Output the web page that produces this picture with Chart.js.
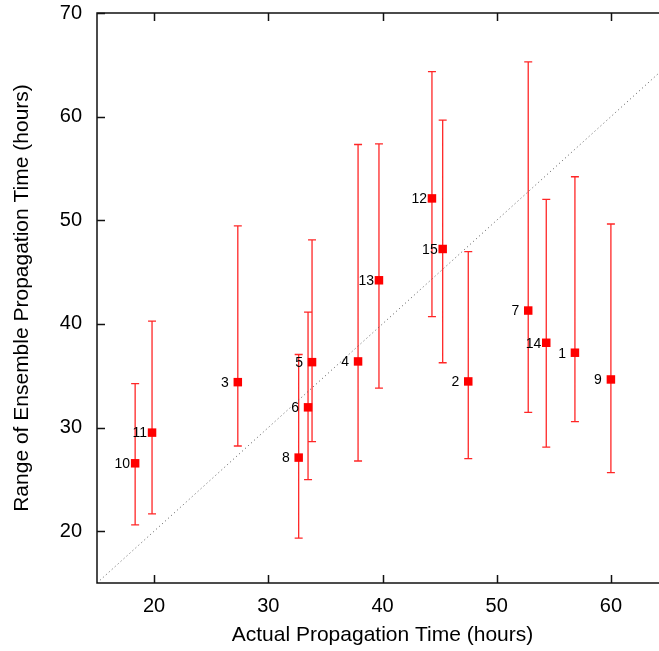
<!DOCTYPE html>
<html>
<head>
<meta charset="utf-8">
<script src="https://cdn.jsdelivr.net/npm/chart.js@4.4.1/dist/chart.umd.min.js"></script>
<style>
html, body { margin: 0; padding: 0; background: #fff; overflow: hidden; }
#wrap { width: 659px; height: 651px; overflow: hidden; }
</style>
</head>
<body>
<div id="wrap"><canvas id="chart" width="680" height="651"></canvas></div>
<script>
// Data
const eventLabels  = ["1", "2", "3", "4", "5", "6", "7", "8", "9", "10", "11", "12", "13", "14", "15"];
const actualTime   = [56.85, 47.51, 27.33, 37.86, 33.83, 33.48, 52.76, 32.66, 60.0, 18.34, 19.82, 44.33, 39.69, 54.34, 45.27];
const ensembleMid  = [37.22, 34.45, 34.38, 36.38, 36.31, 31.95, 41.29, 27.10, 34.64, 26.55, 29.51, 52.11, 44.21, 38.18, 47.23];
const ensembleLow  = [30.57, 27.00, 28.22, 26.77, 28.64, 24.98, 31.46, 19.33, 25.65, 20.61, 21.67, 40.71, 33.81, 28.12, 36.25];
const ensembleHigh = [54.20, 46.97, 49.45, 57.31, 48.10, 41.13, 65.28, 37.05, 49.64, 34.23, 40.26, 64.35, 57.38, 52.01, 59.66];
const xTickValues  = [20, 30, 40, 50, 60];
const yTickValues  = [20, 30, 40, 50, 60, 70];
const diagonal     = [15, 65];

Chart.defaults.font.family = '"Liberation Sans", Arial, sans-serif';
Chart.defaults.color = "#000";

// frame + inward ticks, gnuplot style
const framePlugin = {
  id: "frame",
  afterDraw(chart) {
    const { ctx, chartArea: a, scales: { x, y } } = chart;
    ctx.save();
    ctx.strokeStyle = "#111";
    ctx.lineWidth = 1.5;
    ctx.strokeRect(a.left, a.top, a.right - a.left, a.bottom - a.top);
    ctx.beginPath();
    xTickValues.forEach(v => {
      const px = Math.round(x.getPixelForValue(v)) + 0.5;
      ctx.moveTo(px, a.bottom); ctx.lineTo(px, a.bottom - 8);
      ctx.moveTo(px, a.top); ctx.lineTo(px, a.top + 8);
    });
    yTickValues.forEach(v => {
      const py = Math.round(y.getPixelForValue(v)) + 0.5;
      ctx.moveTo(a.left, py); ctx.lineTo(a.left + 8, py);
      ctx.moveTo(a.right, py); ctx.lineTo(a.right - 8, py);
    });
    ctx.stroke();
    ctx.restore();
  }
};

// vertical error bars with caps
const errorBarPlugin = {
  id: "errorBars",
  beforeDatasetsDraw(chart) {
    const { ctx, scales: { x, y } } = chart;
    ctx.save();
    ctx.strokeStyle = "rgba(255,0,0,0.85)";
    ctx.lineWidth = 1.3;
    ctx.beginPath();
    actualTime.forEach((t, i) => {
      const px = x.getPixelForValue(t);
      const top = y.getPixelForValue(ensembleHigh[i]);
      const bot = y.getPixelForValue(ensembleLow[i]);
      ctx.moveTo(px, top); ctx.lineTo(px, bot);
      ctx.moveTo(px - 4, top); ctx.lineTo(px + 4, top);
      ctx.moveTo(px - 4, bot); ctx.lineTo(px + 4, bot);
    });
    ctx.stroke();
    ctx.restore();
  }
};

// event numbers left of each square
const pointLabelPlugin = {
  id: "pointLabels",
  afterDatasetsDraw(chart) {
    const { ctx, scales: { x, y } } = chart;
    ctx.save();
    ctx.font = '14px "Liberation Sans", Arial, sans-serif';
    ctx.fillStyle = "#000";
    ctx.textAlign = "right";
    ctx.textBaseline = "middle";
    eventLabels.forEach((lbl, i) => {
      const px = x.getPixelForValue(actualTime[i]);
      const py = y.getPixelForValue(ensembleMid[i]);
      ctx.fillText(lbl, px - (lbl.length === 1 ? 9 : 5), py + 1);
    });
    ctx.restore();
  }
};

const ctx = document.getElementById("chart").getContext("2d");
new Chart(ctx, {
  type: "scatter",
  data: {
    datasets: [{
      label: "Events",
      data: actualTime.map((t, i) => ({ x: t, y: ensembleMid[i] })),
      backgroundColor: "#ff0000",
      borderWidth: 0,
      pointStyle: "rect",
      pointRadius: 6,
      pointHoverRadius: 6
    }, {
      type: "line",
      label: "y = x",
      data: diagonal.map(v => ({ x: v, y: v })),
      borderColor: "#555",
      borderWidth: 1,
      borderDash: [1, 3],
      pointRadius: 0,
      fill: false
    }]
  },
  options: {
    responsive: false,
    animation: false,
    devicePixelRatio: 1,
    layout: { padding: { top: 13, right: 12, left: 0, bottom: 0 } },
    plugins: { legend: { display: false }, tooltip: { enabled: false } },
    scales: {
      x: {
        type: "linear",
        min: 15,
        max: 65,
        grid: { display: false, drawTicks: false },
        border: { display: false },
        afterBuildTicks: s => { s.ticks = xTickValues.map(v => ({ value: v })); },
        afterFit: s => { s.height = 68; s.paddingLeft = 0; s.paddingRight = 0; },
        ticks: { padding: 11, font: { size: 20 }, maxRotation: 0 },
        title: {
          display: true,
          text: "Actual Propagation Time (hours)",
          font: { size: 21 },
          padding: { top: 3, bottom: 3 }
        }
      },
      y: {
        type: "linear",
        min: 15,
        max: 70,
        grid: { display: false, drawTicks: false },
        border: { display: false },
        afterBuildTicks: s => { s.ticks = yTickValues.map(v => ({ value: v })); },
        afterFit: s => { s.width = 97; s.paddingTop = 0; s.paddingBottom = 0; },
        ticks: { padding: 15, font: { size: 20 } },
        title: {
          display: true,
          text: "Range of Ensemble Propagation Time (hours)",
          font: { size: 21 },
          padding: { top: 10, bottom: 10 }
        }
      }
    }
  },
  plugins: [errorBarPlugin, pointLabelPlugin, framePlugin]
});
</script>
</body>
</html>
